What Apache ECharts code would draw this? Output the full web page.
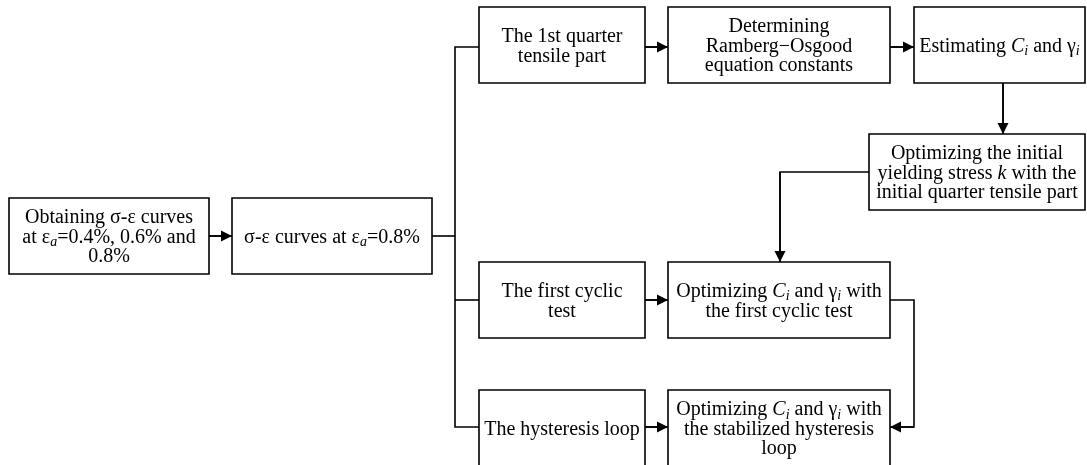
<!DOCTYPE html>
<html>
<head>
<meta charset="utf-8">
<script src="https://cdn.jsdelivr.net/npm/echarts@6/dist/echarts.min.js"></script>
<style>
  html, body { margin: 0; padding: 0; background: #fff; }
  #main { width: 1087px; height: 465px; }
</style>
</head>
<body>
<div id="main"></div>
<script>
// box texts (rich text: {it|..} italic, {sub|..} italic subscript)
var nodeLabels = [
  'Obtaining σ-ε curves\nat ε{sub|a}=0.4%, 0.6% and\n0.8%',
  'σ-ε curves at ε{sub|a}=0.8%',
  'The 1st quarter\ntensile part',
  'Determining\nRamberg−Osgood\nequation constants',
  'Estimating {it|C}{sub|i} and γ{sub|i}',
  'Optimizing the initial\nyielding stress {it|k} with the\ninitial quarter tensile part',
  'The first cyclic\ntest',
  'Optimizing {it|C}{sub|i} and γ{sub|i} with\nthe first cyclic test',
  'The hysteresis loop',
  'Optimizing {it|C}{sub|i} and γ{sub|i} with\nthe stabilized hysteresis\nloop'
];
// box layout: x, y, width, height (diagram units)
var nodeBoxes = [
  [9, 198, 200, 76],
  [232, 198, 200, 76],
  [479, 7, 166, 76],
  [668, 7, 222, 76],
  [914, 7, 171, 76],
  [869, 134, 216, 76],
  [479, 262, 166, 76],
  [668, 262, 222, 76],
  [479, 390, 166, 76],
  [668, 390, 222, 76]
];
// connectors: polyline points, and whether it ends with an arrow
var edgePaths = [
  [[209, 236], [232, 236]],
  [[432, 236], [455, 236]],
  [[479, 47], [455, 47], [455, 427], [479, 427]],
  [[455, 300], [479, 300]],
  [[645, 47], [668, 47]],
  [[890, 47], [914, 47]],
  [[1003, 83], [1003, 134]],
  [[869, 172], [780, 172], [780, 262]],
  [[645, 300], [668, 300]],
  [[890, 300], [914, 300], [914, 427], [890, 427]],
  [[645, 427], [668, 427]]
];
var edgeArrow = [true, false, false, false, true, true, true, true, true, true, true];

var FONT = 'Liberation Serif, Times New Roman, serif';
var myChart = echarts.init(document.getElementById('main'));

var arrowLen = 11;
var arrowData = [];
edgePaths.forEach(function (p, i) {
  if (!edgeArrow[i]) return;
  var a = p[p.length - 2], b = p[p.length - 1];
  var dx = b[0] - a[0], dy = b[1] - a[1];
  var len = Math.sqrt(dx * dx + dy * dy);
  var h = arrowLen / 2;
  arrowData.push({ coords: [a, [b[0] - dx / len * h, b[1] - dy / len * h]] });
});

var richStyles = {
  it: { fontFamily: FONT, fontSize: 20, fontStyle: 'italic', lineHeight: 19.5, fill: '#000' },
  sub: { fontFamily: FONT, fontSize: 14, fontStyle: 'italic', lineHeight: 8, padding: [10, 0, 0, 0], fill: '#000' }
};

var option = {
  backgroundColor: '#fff',
  animation: false,
  grid: { left: 0, right: 0, top: 0, bottom: 0 },
  xAxis: { type: 'value', min: 0, max: 1087, show: false },
  yAxis: { type: 'value', min: 0, max: 465, inverse: true, show: false },
  series: [
    {
      type: 'lines',
      coordinateSystem: 'cartesian2d',
      polyline: true,
      silent: true,
      lineStyle: { color: '#000', width: 1.6, opacity: 1 },
      data: edgePaths.map(function (p) { return { coords: p }; })
    },
    {
      type: 'lines',
      coordinateSystem: 'cartesian2d',
      silent: true,
      symbol: ['none', 'triangle'],
      symbolSize: [7, arrowLen],
      lineStyle: { color: '#000', width: 1.6, opacity: 1 },
      itemStyle: { color: '#000' },
      data: arrowData
    },
    {
      type: 'custom',
      coordinateSystem: 'cartesian2d',
      silent: true,
      data: nodeBoxes.map(function (b, i) { return [b[0], b[1], b[2], b[3], i]; }),
      renderItem: function (params, api) {
        var x = api.value(0), y = api.value(1), w = api.value(2), h = api.value(3);
        var p0 = api.coord([x, y]);
        var p1 = api.coord([x + w, y + h]);
        var label = nodeLabels[api.value(4)];
        return {
          type: 'group',
          children: [
            {
              type: 'rect',
              shape: { x: p0[0], y: p0[1], width: p1[0] - p0[0], height: p1[1] - p0[1] },
              style: { fill: '#fff', stroke: '#000', lineWidth: 1.6 }
            },
            {
              type: 'text',
              style: {
                text: label,
                x: (p0[0] + p1[0]) / 2,
                y: (p0[1] + p1[1]) / 2 + 1.5,
                align: 'center',
                verticalAlign: 'middle',
                fontFamily: FONT,
                fontSize: 20,
                lineHeight: 19.5,
                fill: '#000',
                rich: richStyles
              }
            }
          ]
        };
      }
    }
  ]
};
myChart.setOption(option);
</script>
</body>
</html>
